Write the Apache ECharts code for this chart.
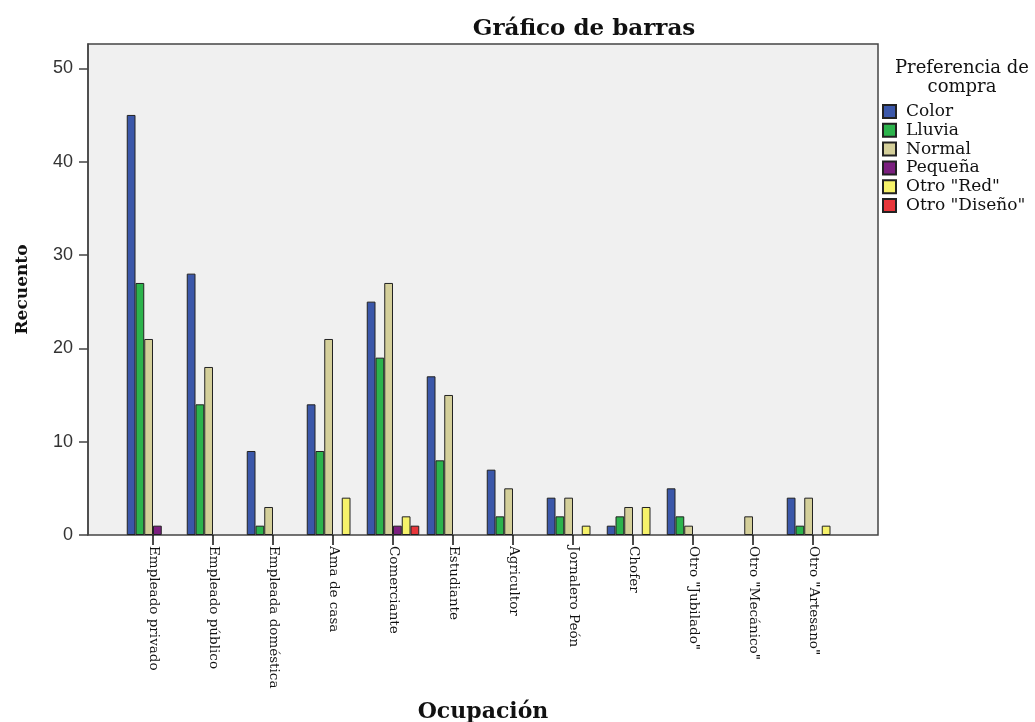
<!DOCTYPE html>
<html>
<head>
<meta charset="utf-8">
<script src="https://cdn.jsdelivr.net/npm/echarts@6/dist/echarts.min.js"></script>
<style>
html,body{margin:0;padding:0;background:#fff;}
#chart{width:1035px;height:722px;}
</style>
</head>
<body>
<div id="chart"></div>
<script>
const categories = ['Empleado privado','Empleado público','Empleada doméstica','Ama de casa','Comerciante','Estudiante','Agricultor','Jornalero Peón','Chofer','Otro "Jubilado"','Otro "Mecánico"','Otro "Artesano"'];
const seriesNames = ['Color','Lluvia','Normal','Pequeña','Otro "Red"','Otro "Diseño"'];
const colorValues   = [45, 28, 9, 14, 25, 17, 7, 4, 1, 5, 0, 4];
const lluviaValues  = [27, 14, 1, 9, 19, 8, 2, 2, 2, 2, 0, 1];
const normalValues  = [21, 18, 3, 21, 27, 15, 5, 4, 3, 1, 2, 4];
const pequenaValues = [1, 0, 0, 0, 1, 0, 0, 0, 0, 0, 0, 0];
const redValues     = [0, 0, 0, 4, 2, 0, 0, 1, 3, 0, 0, 1];
const disenoValues  = [0, 0, 0, 0, 1, 0, 0, 0, 0, 0, 0, 0];
const yTicks = [0, 10, 20, 30, 40, 50];

const allValues = [colorValues, lluviaValues, normalValues, pequenaValues, redValues, disenoValues];
const colors = ['#3b57a9', '#2cb34c', '#d4cf9a', '#7b1f7f', '#f6f26a', '#e8363b'];

const serif = 'DejaVu Serif';
const yMax = 52.6;

const chart = echarts.init(document.getElementById('chart'));
chart.setOption({
  animation: false,
  backgroundColor: '#ffffff',
  title: [
    { text: 'Gráfico de barras', left: 579, top: 13, textAlign: 'center',
      textStyle: { fontFamily: serif, fontWeight: 'bold', fontSize: 23, color: '#111' } },
    { text: 'Preferencia de\ncompra', left: 957, top: 54, textAlign: 'center',
      textStyle: { fontFamily: serif, fontWeight: 'normal', fontSize: 18, lineHeight: 19, color: '#111' } }
  ],
  legend: {
    orient: 'vertical', left: 882, top: 103, padding: 0,
    itemWidth: 13, itemHeight: 13, itemGap: 1.8,
    icon: 'rect',
    data: seriesNames,
    textStyle: { fontFamily: serif, fontSize: 17, lineHeight: 16, color: '#111', padding: [0, 0, 0, 5] }
  },
  grid: [
    { left: 88, top: 44, width: 790, height: 491, show: true, backgroundColor: '#f0f0f0', borderColor: '#444', borderWidth: 1.5, outerBoundsMode: 'none', containLabel: false },
    { left: 123, top: 44, width: 720, height: 491, show: false, outerBoundsMode: 'none', containLabel: false }
  ],
  xAxis: [
    { type: 'value', gridIndex: 0, show: false, min: 0, max: 1 },
    { type: 'category', gridIndex: 1, data: categories,
      name: 'Ocupación', nameLocation: 'middle', nameGap: 166,
      nameTextStyle: { fontFamily: serif, fontWeight: 'bold', fontSize: 22, color: '#111' },
      axisLine: { show: false },
      axisTick: { show: true, alignWithLabel: true, length: 10, lineStyle: { color: '#111', width: 1.5 } },
      axisLabel: { rotate: -90, margin: 11, fontFamily: serif, fontSize: 13.5, color: '#111', interval: 0 }
    }
  ],
  yAxis: [
    { type: 'value', gridIndex: 0, min: 0, max: yMax, interval: 10,
      name: 'Recuento', nameLocation: 'middle', nameGap: 57, nameRotate: 90,
      nameTextStyle: { fontFamily: serif, fontWeight: 'bold', fontSize: 17, color: '#111' },
      axisLine: { show: true, lineStyle: { color: '#444', width: 1.5 } },
      axisTick: { show: true, length: 9, lineStyle: { color: '#444', width: 1.5 } },
      axisLabel: { showMaxLabel: false, margin: 15, fontFamily: 'Liberation Sans', fontSize: 18, color: '#333',
        formatter: v => (yTicks.indexOf(v) >= 0 ? String(v) : '') },
      splitLine: { show: false }
    },
    { type: 'value', gridIndex: 1, min: 0, max: yMax, show: false, splitLine: { show: false } }
  ],
  series: seriesNames.map((name, i) => ({
    name: name,
    type: 'bar',
    xAxisIndex: 1, yAxisIndex: 1,
    barGap: '0%', barCategoryGap: '12.5%',
    itemStyle: { color: colors[i], borderColor: '#222', borderWidth: 1 },
    data: allValues[i].map(v => (v === 0 ? '-' : v))
  }))
});
</script>
</body>
</html>
